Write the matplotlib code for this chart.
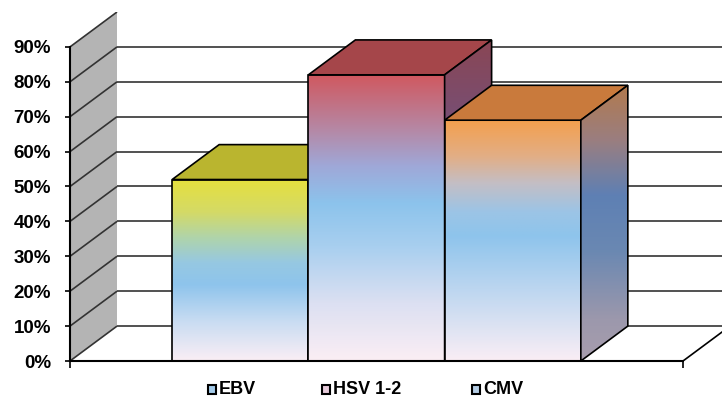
import numpy as np
import matplotlib
matplotlib.use("Agg")
import matplotlib.pyplot as plt
from matplotlib.colors import LinearSegmentedColormap
from matplotlib.patches import Polygon, Rectangle

# ---- data ----
series = ["EBV", "HSV 1-2", "CMV"]
values = [52, 82, 69]                      # percent
yticks = [0, 10, 20, 30, 40, 50, 60, 70, 80, 90]
ytick_labels = [f"{v}%" for v in yticks]

# ---- styling ----
FONT = "Liberation Sans"
plt.rcParams["font.family"] = [FONT, "DejaVu Sans"]

front_stops = [
    [(0.0, "#E6E03E"), (0.18, "#D4DA66"), (0.32, "#B0D4AA"), (0.46, "#96C8E2"),
     (0.58, "#8EC4EC"), (0.78, "#C8DCF2"), (1.0, "#FAEEF5")],
    [(0.0, "#D0585F"), (0.2, "#B48AA8"), (0.32, "#9FA8D8"), (0.45, "#8CC3EC"),
     (0.6, "#A8CFEF"), (0.8, "#DCE0F2"), (1.0, "#FBEEF4")],
    [(0.0, "#F4A04E"), (0.15, "#E2AE86"), (0.26, "#C4BEC4"), (0.38, "#9CC4E6"),
     (0.48, "#8EC4EC"), (0.7, "#BCD6F0"), (1.0, "#FAEEF5")],
]
top_colors = ["#BAB52F", "#A5464A", "#C97A3C"]
side_stops = [
    [(0.0, "#8E8A30"), (0.5, "#5E80B4"), (1.0, "#A89EAE")],
    [(0.0, "#8A4654"), (0.3, "#74507A"), (0.5, "#5A7FB5"), (1.0, "#A09AAE")],
    [(0.0, "#B27A4E"), (0.2, "#9A7E80"), (0.4, "#5E80B4"), (0.6, "#6A88B2"),
     (0.85, "#9C98AC"), (1.0, "#A89EAE")],
]
legend_fill = ["#A4CBEA", "#E6CADA", "#B4CCE4"]

GRID = "#333333"
WALL = "#B4B4B4"

# ---- figure / axes geometry ----
W, H, DPI = 722, 407, 100
fig = plt.figure(figsize=(W / DPI, H / DPI), dpi=DPI)
PX_X = 613.0            # pixels per unit of floor width
PX_Y = 3.49             # pixels per percent
DX = 47.0 / PX_X        # depth offset (x units)
DY = 10.0               # depth offset (percent units)
LEFT_PX, BASE_PX = 70, 361
ax = fig.add_axes([LEFT_PX / W, (H - BASE_PX) / H,
                   (1 + DX) * PX_X / W, 100 * PX_Y / H])
ax.set_xlim(0, 1 + DX)
ax.set_ylim(0, 100)
ax.patch.set_visible(False)


def shaded_face(verts, stops, z, edge=True):
    xs = [p[0] for p in verts]
    ys = [p[1] for p in verts]
    cmap = LinearSegmentedColormap.from_list("face", stops)
    grad = np.linspace(0, 1, 256).reshape(-1, 1)
    im = ax.imshow(grad, cmap=cmap, vmin=0, vmax=1, aspect="auto",
                   extent=(min(xs), max(xs), min(ys), max(ys)),
                   origin="upper", zorder=z, interpolation="bilinear")
    clip = Polygon(verts, closed=True, transform=ax.transData)
    im.set_clip_path(clip)
    if edge:
        ax.add_patch(Polygon(verts, closed=True, facecolor="none",
                             edgecolor="black", lw=1.2, zorder=z + 0.1,
                             joinstyle="miter"))


# side wall (left)
top = yticks[-1]
ax.add_patch(Polygon([(0, 0), (DX, DY), (DX, top + DY), (0, top)],
                     closed=True, facecolor=WALL, edgecolor="none", zorder=1))
for v in yticks:
    ax.plot([0, DX], [v, v + DY], color=GRID, lw=1.2, zorder=2,
            solid_capstyle="butt")
# back wall gridlines
for v in yticks[:-1]:
    ax.plot([DX, 1 + DX], [v + DY, v + DY], color=GRID, lw=1.2, zorder=2,
            solid_capstyle="butt")
# floor
ax.plot([1, 1 + DX], [0, DY], color="black", lw=1.2, zorder=2)

# bars
n = len(series)
gap = 1.0 / 6
bw = (1 - 2 * gap) / n
for i, v in enumerate(values):
    x0 = gap + i * bw
    x1 = x0 + bw
    z = 5 + i
    shaded_face([(x0, 0), (x1, 0), (x1, v), (x0, v)], front_stops[i], z)
    ax.add_patch(Polygon([(x0, v), (x1, v), (x1 + DX, v + DY), (x0 + DX, v + DY)],
                         closed=True, facecolor=top_colors[i], edgecolor="black",
                         lw=1.2, zorder=z + 0.2, joinstyle="miter"))
    shaded_face([(x1, 0), (x1 + DX, DY), (x1 + DX, v + DY), (x1, v)],
                side_stops[i], z + 0.3)

# axes
for s in ("top", "right"):
    ax.spines[s].set_visible(False)
ax.spines["left"].set_bounds(0, top)
ax.spines["bottom"].set_bounds(0, 1)
for s in ("left", "bottom"):
    ax.spines[s].set_linewidth(1.5)
    ax.spines[s].set_zorder(20)
ax.set_yticks(yticks)
ax.set_yticklabels(ytick_labels, fontsize=13.5, fontweight="bold")
ax.tick_params(axis="y", direction="out", length=3.5, width=1.2, pad=10)
ax.set_xticks([0, 1])
ax.set_xticklabels(["", ""])
ax.tick_params(axis="x", direction="out", length=5, width=1.2)

# legend
leg_x = [208, 322, 472]
leg_y = 389
for name, fc, lx in zip(series, legend_fill, leg_x):
    fig.patches.append(Rectangle((lx / W, (H - leg_y - 4.5) / H), 8 / W, 9 / H,
                                 transform=fig.transFigure, facecolor=fc,
                                 edgecolor="black", lw=1.5))
    fig.text((lx + 11) / W, (H - leg_y) / H, name, fontsize=13, fontweight="bold",
             va="center", ha="left")

fig.savefig("out.png", dpi=DPI)
